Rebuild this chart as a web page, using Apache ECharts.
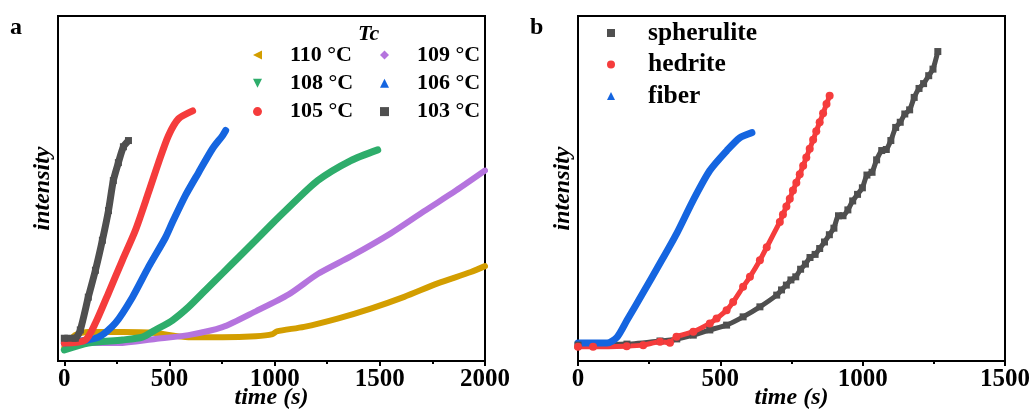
<!DOCTYPE html>
<html>
<head>
<meta charset="utf-8">
<script src="https://cdn.jsdelivr.net/npm/echarts@6/dist/echarts.min.js"></script>
<style>html,body{margin:0;padding:0;background:#fff}#c{width:1033px;height:412px}</style>
</head>
<body>
<div id="c"></div>
<script>
// ---------- Panel a: intensity vs time at different Tc ----------
const namesA = ['110 °C', '109 °C', '108 °C', '106 °C', '105 °C', '103 °C'];
const t110 = [0, 52, 114, 276, 433, 590, 752, 910, 990, 1010, 1140, 1299, 1457, 1616, 1775, 1933, 2000];
const v110 = [4.0, 7.5, 8.4, 8.4, 8.1, 6.9, 6.9, 7.2, 7.8, 8.6, 9.9, 12.3, 15.2, 18.6, 22.5, 25.8, 27.5];
const t109 = [0, 257, 433, 590, 752, 910, 1067, 1205, 1362, 1552, 1710, 1862, 2000];
const v109 = [5.2, 5.2, 6.4, 7.5, 9.8, 14.4, 19.3, 25.2, 30.3, 37.0, 43.4, 49.4, 55.2];
const t108 = [0, 114, 276, 371, 433, 514, 590, 671, 752, 829, 910, 990, 1052, 1205, 1362, 1490];
const v108 = [3.2, 5.2, 6.1, 6.9, 9.0, 11.8, 15.6, 20.5, 25.4, 30.1, 35.0, 39.9, 43.6, 52.3, 58.1, 61.2];
const t106 = [0, 162, 243, 324, 400, 481, 514, 576, 638, 705, 752, 767];
const v106 = [5.2, 6.9, 11.0, 18.5, 27.2, 35.8, 40.2, 48.0, 54.6, 61.6, 65.3, 66.8];
const t105 = [0, 100, 148, 210, 276, 338, 400, 448, 495, 543, 610];
const v105 = [5.2, 6.1, 11.0, 19.7, 29.2, 37.9, 48.8, 57.5, 65.3, 70.2, 72.5];
const t103 = [0, 52, 76, 114, 148, 181, 210, 233, 257, 281, 305];
const v103 = [6.6, 6.6, 9.0, 18.5, 26.3, 35.0, 43.6, 52.3, 57.5, 62.1, 63.9];
const ticksA = [0, 500, 1000, 1500, 2000];
const minorTicksA = [250, 750, 1250, 1750];

// ---------- Panel b: morphologies ----------
const namesB = ['spherulite', 'hedrite', 'fiber'];
const tSph = [0, 172, 288, 347, 405, 463, 522, 580, 639, 698, 715, 732, 748, 765, 782, 799, 815, 833, 849, 866, 883, 899, 915, 931, 948, 965, 982, 999, 1015, 1033, 1049, 1067, 1083, 1099, 1116, 1132, 1148, 1165, 1181, 1198, 1214, 1232, 1247, 1264];
const vSph = [4.6, 4.9, 5.8, 6.4, 7.5, 9.0, 10.4, 12.8, 15.7, 19.1, 20.6, 22.0, 23.5, 24.4, 26.6, 28.1, 30.0, 30.9, 32.6, 34.5, 36.6, 38.5, 42.1, 42.1, 43.8, 46.4, 48.3, 50.2, 53.9, 54.7, 58.3, 61.0, 61.3, 63.9, 67.7, 69.2, 71.6, 72.8, 76.4, 79.0, 80.4, 82.7, 84.6, 89.7];
const tHed = [0, 53, 171, 229, 288, 323, 346, 405, 463, 487, 522, 545, 580, 604, 639, 663, 709, 720, 732, 744, 755, 767, 779, 791, 802, 814, 826, 837, 849, 861, 873, 884];
const vHed = [4.1, 4.1, 4.3, 4.6, 5.6, 5.3, 7.0, 8.5, 10.9, 12.3, 14.7, 17.1, 21.5, 24.4, 29.2, 33.0, 40.3, 42.5, 44.8, 47.0, 49.4, 51.7, 54.1, 56.6, 59.0, 61.5, 64.1, 66.6, 69.2, 71.8, 74.5, 76.9];
const tFib = [0, 102, 137, 172, 228, 288, 347, 404, 463, 523, 568, 611];
const vFib = [5.2, 5.2, 6.9, 11.8, 19.7, 28.3, 37.0, 46.5, 55.2, 61.0, 64.7, 66.2];

const colors = {
  '110 °C': '#D39E00', '109 °C': '#B574DE', '108 °C': '#2EAD6B',
  '106 °C': '#1565E0', '105 °C': '#F53C3C', '103 °C': '#4F4F4F',
  'spherulite': '#4F4F4F', 'hedrite': '#F53C3C', 'fiber': '#1565E0'
};
const icons = {
  '110 °C': 'path://M0,5L10,0L10,10Z', '109 °C': 'diamond', '108 °C': 'path://M0,0L10,0L5,10Z',
  '106 °C': 'triangle', '105 °C': 'circle', '103 °C': 'rect',
  'spherulite': 'rect', 'hedrite': 'circle', 'fiber': 'triangle'
};

const FONT = "'Liberation Serif', 'Times New Roman', serif";
const zip = (t, v) => t.map((x, i) => [x, v[i]]);

function lineSeries(name, t, v, xi, yi, width) {
  return {
    name, type: 'line', xAxisIndex: xi, yAxisIndex: yi,
    data: zip(t, v), smooth: 0.25, showSymbol: false,
    lineStyle: { color: colors[name], width: width, cap: 'round', join: 'round' },
    itemStyle: { color: colors[name] }, z: 3
  };
}
function markSeries(name, t, v, xi, yi, width, sym, size) {
  return {
    name, type: 'line', xAxisIndex: xi, yAxisIndex: yi,
    data: zip(t, v), smooth: 0.2, showSymbol: true, showAllSymbol: true,
    symbol: sym, symbolSize: size,
    lineStyle: { color: colors[name], width: width, join: 'round' },
    itemStyle: { color: colors[name], opacity: 1 }, z: 3
  };
}

function legendFor(names, left, top, fs, gap, pad, iconSize) {
  return {
    orient: 'vertical', left: left, top: top, padding: 0, itemGap: gap,
    itemWidth: iconSize, itemHeight: iconSize,
    data: names.map(n => ({ name: n, icon: icons[n], itemStyle: { color: colors[n] } })),
    formatter: '{n|{name}}',
    textStyle: {
      rich: { n: { fontFamily: FONT, fontWeight: 'bold', fontSize: fs, lineHeight: fs, color: '#000', padding: [0, 0, 0, pad] } }
    }
  };
}

const plain = v => String(v);
const axisLabelStyle = { color: '#000', fontFamily: FONT, fontWeight: 'bold', fontSize: 25, formatter: plain };
const nameStyle = { color: '#000', fontFamily: FONT, fontWeight: 'bold', fontStyle: 'italic', fontSize: 24 };
const blackLine = { show: true, onZero: false, lineStyle: { color: '#000', width: 2 } };

const option = {
  animation: false,
  backgroundColor: '#fff',
  grid: [
    { left: 58, top: 16, width: 427, height: 345, show: true, borderColor: '#000', borderWidth: 2, outerBoundsMode: 'none' },
    { left: 578, top: 16, width: 427, height: 345, show: true, borderColor: '#000', borderWidth: 2, outerBoundsMode: 'none' }
  ],
  xAxis: [
    {
      gridIndex: 0, type: 'value', min: -30, max: 2000, position: 'bottom',
      axisLine: blackLine,
      axisTick: { show: true, inside: false, length: 5, lineStyle: { color: '#000', width: 2 }, customValues: ticksA },
      axisLabel: Object.assign({ margin: 6, customValues: ticksA }, axisLabelStyle),
      splitLine: { show: false },
      name: 'time (s)', nameLocation: 'middle', nameGap: 25, nameMoveOverlap: false, nameTextStyle: nameStyle
    },
    {
      gridIndex: 0, type: 'value', min: -30, max: 2000, position: 'bottom',
      axisLine: { show: false, onZero: false },
      axisTick: { show: true, inside: false, length: 3, lineStyle: { color: '#000', width: 2 }, customValues: minorTicksA },
      axisLabel: { show: false }, splitLine: { show: false }
    },
    {
      gridIndex: 1, type: 'value', min: 0, max: 1500, interval: 500, position: 'bottom',
      axisLine: blackLine,
      axisTick: { show: true, inside: false, length: 5, lineStyle: { color: '#000', width: 2 } },
      minorTick: { show: true, splitNumber: 2, length: 3, lineStyle: { color: '#000', width: 2 } },
      axisLabel: Object.assign({ margin: 6 }, axisLabelStyle),
      splitLine: { show: false },
      name: 'time (s)', nameLocation: 'middle', nameGap: 25, nameMoveOverlap: false, nameTextStyle: nameStyle
    }
  ],
  yAxis: [
    {
      gridIndex: 0, type: 'value', min: 0, max: 100,
      axisLine: blackLine, axisTick: { show: false }, axisLabel: { show: false }, splitLine: { show: false },
      name: 'intensity', nameLocation: 'middle', nameGap: 3, nameMoveOverlap: false, nameTextStyle: nameStyle
    },
    {
      gridIndex: 1, type: 'value', min: 0, max: 100,
      axisLine: blackLine, axisTick: { show: false }, axisLabel: { show: false }, splitLine: { show: false },
      name: 'intensity', nameLocation: 'middle', nameGap: 3, nameMoveOverlap: false, nameTextStyle: nameStyle
    }
  ],
  legend: [
    legendFor(['110 °C', '108 °C', '105 °C'], 253, 44, 22, 6.3, 23, 9),
    legendFor(['109 °C', '106 °C', '103 °C'], 380, 44, 22, 6.3, 23, 9),
    legendFor(namesB, 607, 20, 25.5, 5.5, 28, 8)
  ],
  graphic: [
    { type: 'text', left: 10, top: 16, style: { text: 'a', font: "bold 24px " + FONT, fill: '#000' } },
    { type: 'text', left: 530, top: 16, style: { text: 'b', font: "bold 24px " + FONT, fill: '#000' } },
    { type: 'text', left: 358, top: 23, style: { text: 'Tc', font: "italic bold 22px " + FONT, fill: '#000' } }
  ],
  series: [
    lineSeries('110 °C', t110, v110, 0, 0, 6),
    lineSeries('109 °C', t109, v109, 0, 0, 6),
    lineSeries('108 °C', t108, v108, 0, 0, 7),
    lineSeries('106 °C', t106, v106, 0, 0, 7),
    lineSeries('105 °C', t105, v105, 0, 0, 7),
    markSeries('103 °C', t103, v103, 0, 0, 7, 'rect', 7),
    markSeries('spherulite', tSph, vSph, 2, 1, 5, 'rect', 7),
    markSeries('hedrite', tHed, vHed, 2, 1, 5, 'circle', 8),
    lineSeries('fiber', tFib, vFib, 2, 1, 7)
  ]
};

const chart = echarts.init(document.getElementById('c'), null, { renderer: 'canvas' });
chart.setOption(option);
</script>
</body>
</html>
